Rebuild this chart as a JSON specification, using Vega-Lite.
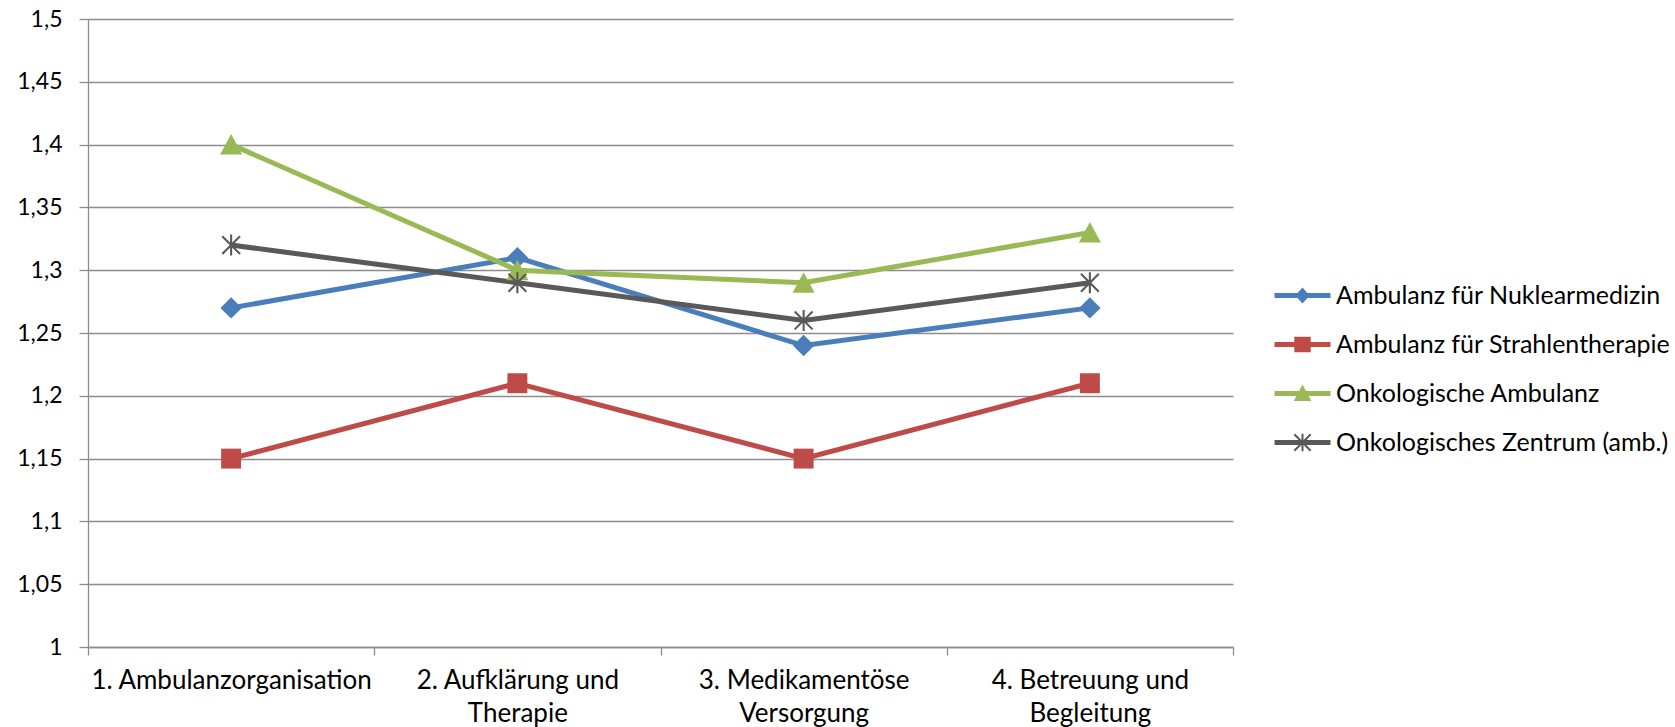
{
  "$schema": "https://vega.github.io/schema/vega-lite/v6.json",
  "width": 1145,
  "height": 628,
  "autosize": {"type": "none"},
  "padding": {"left": 88, "top": 19, "right": 442, "bottom": 80},
  "background": "white",
  "config": {"view": {"stroke": null}, "font": "Lato"},
  "data": {
    "values": [
      {"Kategorie": "1. Ambulanzorganisation", "Serie": "Ambulanz für Nuklearmedizin", "Wert": 1.27},
      {"Kategorie": "2. Aufklärung und Therapie", "Serie": "Ambulanz für Nuklearmedizin", "Wert": 1.31},
      {"Kategorie": "3. Medikamentöse Versorgung", "Serie": "Ambulanz für Nuklearmedizin", "Wert": 1.24},
      {"Kategorie": "4. Betreuung und Begleitung", "Serie": "Ambulanz für Nuklearmedizin", "Wert": 1.27},
      {"Kategorie": "1. Ambulanzorganisation", "Serie": "Ambulanz für Strahlentherapie", "Wert": 1.15},
      {"Kategorie": "2. Aufklärung und Therapie", "Serie": "Ambulanz für Strahlentherapie", "Wert": 1.21},
      {"Kategorie": "3. Medikamentöse Versorgung", "Serie": "Ambulanz für Strahlentherapie", "Wert": 1.15},
      {"Kategorie": "4. Betreuung und Begleitung", "Serie": "Ambulanz für Strahlentherapie", "Wert": 1.21},
      {"Kategorie": "1. Ambulanzorganisation", "Serie": "Onkologische Ambulanz", "Wert": 1.40},
      {"Kategorie": "2. Aufklärung und Therapie", "Serie": "Onkologische Ambulanz", "Wert": 1.30},
      {"Kategorie": "3. Medikamentöse Versorgung", "Serie": "Onkologische Ambulanz", "Wert": 1.29},
      {"Kategorie": "4. Betreuung und Begleitung", "Serie": "Onkologische Ambulanz", "Wert": 1.33},
      {"Kategorie": "1. Ambulanzorganisation", "Serie": "Onkologisches Zentrum (amb.)", "Wert": 1.32},
      {"Kategorie": "2. Aufklärung und Therapie", "Serie": "Onkologisches Zentrum (amb.)", "Wert": 1.29},
      {"Kategorie": "3. Medikamentöse Versorgung", "Serie": "Onkologisches Zentrum (amb.)", "Wert": 1.26},
      {"Kategorie": "4. Betreuung und Begleitung", "Serie": "Onkologisches Zentrum (amb.)", "Wert": 1.29}
    ]
  },
  "encoding": {
    "x": {
      "field": "Kategorie",
      "type": "nominal",
      "sort": ["1. Ambulanzorganisation", "2. Aufklärung und Therapie", "3. Medikamentöse Versorgung", "4. Betreuung und Begleitung"],
      "scale": {"type": "band", "paddingInner": 0, "paddingOuter": 0},
      "axis": {
        "title": null,
        "labelAngle": 0,
        "tickBand": "extent",
        "domainColor": "#8c8c8c",
        "domainWidth": 1.3,
        "tickColor": "#8c8c8c",
        "tickWidth": 1.3,
        "tickSize": 8,
        "labelFontSize": 26,
        "labelColor": "#000000",
        "labelPadding": 12,
        "labelLineHeight": 33,
        "labelBaseline": "top",
        "labelLimit": 0,
        "labelExpr": "datum.label == '2. Aufklärung und Therapie' ? ['2. Aufklärung und', 'Therapie'] : datum.label == '3. Medikamentöse Versorgung' ? ['3. Medikamentöse', 'Versorgung'] : datum.label == '4. Betreuung und Begleitung' ? ['4. Betreuung und', 'Begleitung'] : datum.label"
      }
    },
    "y": {
      "field": "Wert",
      "type": "quantitative",
      "scale": {"domain": [1, 1.5], "zero": false, "nice": false},
      "axis": {
        "title": null,
        "values": [1, 1.05, 1.1, 1.15, 1.2, 1.25, 1.3, 1.35, 1.4, 1.45, 1.5],
        "grid": true,
        "gridColor": "#8c8c8c",
        "gridWidth": 1.3,
        "domainColor": "#8c8c8c",
        "domainWidth": 1.3,
        "tickColor": "#8c8c8c",
        "tickWidth": 1.3,
        "tickSize": 9,
        "labelPadding": 17,
        "labelFontSize": 23,
        "labelColor": "#000000",
        "labelExpr": "replace(toString(datum.value), '.', ',')"
      }
    },
    "color": {
      "field": "Serie",
      "type": "nominal",
      "scale": {
        "domain": ["Ambulanz für Nuklearmedizin", "Ambulanz für Strahlentherapie", "Onkologische Ambulanz", "Onkologisches Zentrum (amb.)"],
        "range": ["#4A7EBB", "#BE4B48", "#98B954", "#595959"]
      },
      "legend": {
        "title": null,
        "orient": "none",
        "legendX": 1202,
        "legendY": 264,
        "labelFontSize": 25,
        "labelColor": "#000000",
        "labelLimit": 0,
        "labelOffset": 21,
        "symbolSize": 400,
        "rowPadding": 23,
        "encode": {
          "symbols": {
            "update": {
              "shape": {"signal": "datum.value == 'Ambulanz für Nuklearmedizin' ? 'M-2.8,-0.25H2.8V0.25H-2.8ZM0,-0.8L0.72,0L0,0.8L-0.72,0Z' : datum.value == 'Ambulanz für Strahlentherapie' ? 'M-2.8,-0.25H2.8V0.25H-2.8ZM-0.82,-0.78H0.82V0.78H-0.82Z' : datum.value == 'Onkologische Ambulanz' ? 'M-2.8,-0.25H2.8V0.25H-2.8ZM0,-0.9L0.88,0.75H-0.88Z' : 'M-2.8,-0.25H2.8V0.25H-2.8ZM-0.1,-0.88H0.1V0.88H-0.1ZM-0.75,-0.89L0.89,0.75L0.75,0.89L-0.89,-0.75ZM-0.89,0.75L0.75,-0.89L0.89,-0.75L-0.75,0.89Z'"},
              "fill": {"signal": "scale('color', datum.value)"},
              "stroke": {"value": "transparent"},
              "strokeWidth": {"value": 0},
              "opacity": {"value": 1},
              "fillOpacity": {"value": 1}
            }
          }
        }
      }
    }
  },
  "layer": [
    {
      "mark": {"type": "line", "strokeWidth": 5}
    },
    {
      "transform": [{"filter": "datum.Serie == 'Ambulanz für Nuklearmedizin'"}],
      "mark": {"type": "point", "filled": true, "opacity": 1, "size": 441, "shape": "M0,-1.02L1.02,0L0,1.02L-1.02,0Z"}
    },
    {
      "transform": [{"filter": "datum.Serie == 'Ambulanz für Strahlentherapie'"}],
      "mark": {"type": "point", "filled": true, "opacity": 1, "size": 441, "shape": "M-0.95,-0.95H0.95V0.95H-0.95Z"}
    },
    {
      "transform": [{"filter": "datum.Serie == 'Onkologische Ambulanz'"}],
      "mark": {"type": "point", "filled": true, "opacity": 1, "size": 441, "shape": "M0,-1L1.05,0.95H-1.05Z"}
    },
    {
      "transform": [{"filter": "datum.Serie == 'Onkologisches Zentrum (amb.)'"}],
      "mark": {"type": "point", "filled": true, "opacity": 1, "size": 441, "shape": "M-0.1,-1H0.1V1H-0.1ZM-0.78,-0.92L0.92,0.78L0.78,0.92L-0.92,-0.78ZM-0.92,0.78L0.78,-0.92L0.92,-0.78L-0.78,0.92Z"}
    }
  ]
}
